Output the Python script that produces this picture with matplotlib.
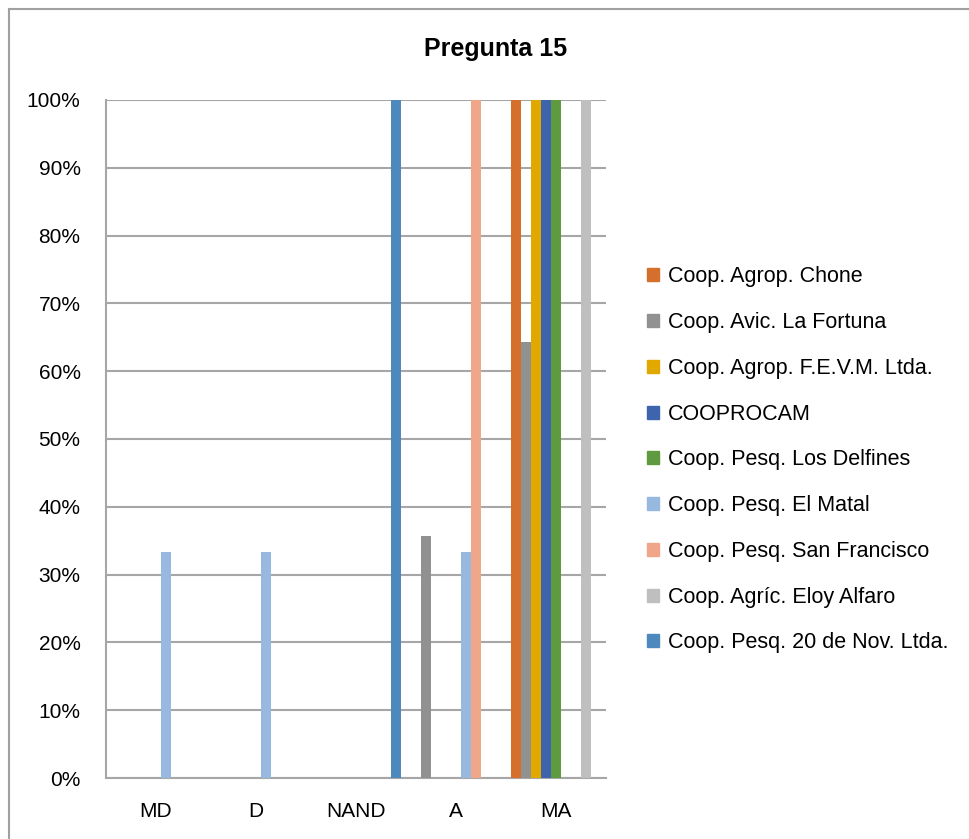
import matplotlib
matplotlib.use("Agg")
import matplotlib.pyplot as plt
from matplotlib.lines import Line2D
from matplotlib.patches import Patch
import numpy as np

plt.rcParams['font.family'] = ['Liberation Sans', 'DejaVu Sans']

categories = ["MD", "D", "NAND", "A", "MA"]
series_names = [
    "Coop. Agrop. Chone",
    "Coop. Avic. La Fortuna",
    "Coop. Agrop. F.E.V.M. Ltda.",
    "COOPROCAM",
    "Coop. Pesq. Los Delfines",
    "Coop. Pesq. El Matal",
    "Coop. Pesq. San Francisco",
    "Coop. Agríc. Eloy Alfaro",
    "Coop. Pesq. 20 de Nov. Ltda.",
]
chone = [0, 0, 0, 0, 100]
fortuna = [0, 0, 0, 35.7, 64.3]
fevm = [0, 0, 0, 0, 100]
cooprocam = [0, 0, 0, 0, 100]
delfines = [0, 0, 0, 0, 100]
matal = [33.3, 33.3, 0, 33.3, 0]
sanfrancisco = [0, 0, 0, 100, 0]
eloyalfaro = [0, 0, 0, 0, 100]
nov20 = [0, 0, 100, 0, 0]
values = [chone, fortuna, fevm, cooprocam, delfines, matal, sanfrancisco, eloyalfaro, nov20]
colors = ["#D46F2C", "#919191", "#E1A800", "#3E64AD", "#5F9A40",
          "#97B9E0", "#F0A688", "#BFBFBF", "#4E89BE"]

fig = plt.figure(figsize=(9.69, 8.39), dpi=100)
ax = fig.add_axes([105.5/969, (839-778)/839, 500.5/969, 678/839])

x = np.arange(len(categories))
w = 0.1
for j, (vals, c, n) in enumerate(zip(values, colors, series_names)):
    ax.bar(x + (j - 4) * w, vals, width=w, color=c, label=n, zorder=3)

ax.set_xlim(-0.5, 4.5)
ax.set_ylim(0, 100)
ax.set_yticks(np.arange(0, 101, 10))
ax.set_yticklabels([f"{v}%" for v in range(0, 101, 10)], fontsize=15)
ax.set_xticks(x)
ax.set_xticklabels(categories, fontsize=15)
ax.tick_params(axis='x', length=0, pad=17)
ax.tick_params(axis='y', length=0, pad=18)
ax.grid(axis='y', color="#A6A6A6", linewidth=1.5, zorder=0)
for s in ["right", "top"]:
    ax.spines[s].set_visible(False)
for s in ["bottom", "left"]:
    ax.spines[s].set_color("#A6A6A6")
    ax.spines[s].set_linewidth(1.5)

fig.text(496/969, (839-49)/839, "Pregunta 15", fontsize=18, fontweight="bold",
         ha="center", va="center")

handles = [Patch(facecolor=c, edgecolor=c) for c in colors]
fig.legend(handles, series_names, loc="upper left",
           bbox_to_anchor=(628/969, (839-247)/839), frameon=False,
           fontsize=15.5, handlelength=0.55, handleheight=0.55, handletextpad=0.4,
           labelspacing=1.15)

# figure border
fig.add_artist(Line2D([9/969, 9/969], [0, (839-9)/839], color="#A0A0A0", lw=1.5, transform=fig.transFigure))
fig.add_artist(Line2D([9/969, 1], [(839-9)/839, (839-9)/839], color="#A0A0A0", lw=1.5, transform=fig.transFigure))

fig.savefig("out.png", dpi=100)
